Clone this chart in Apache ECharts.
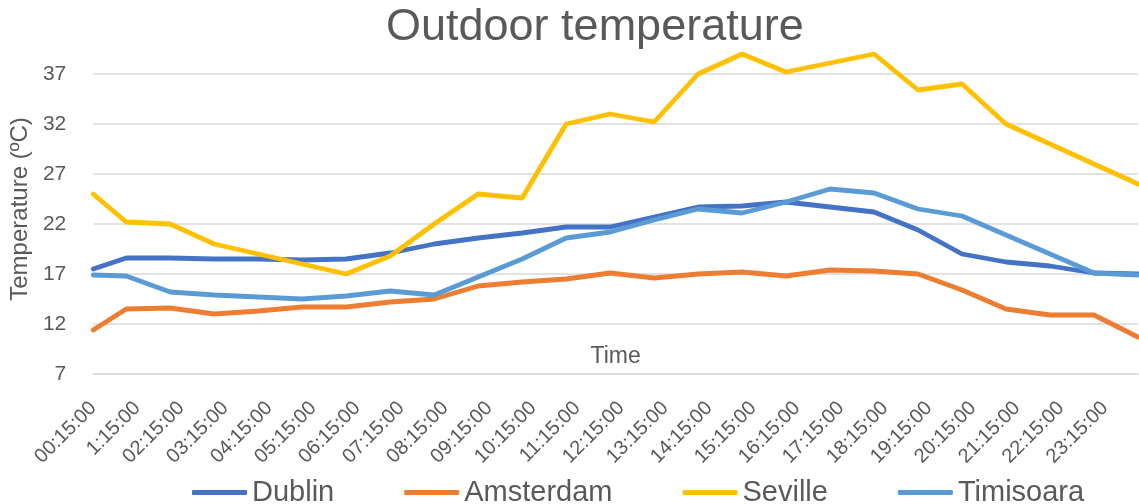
<!DOCTYPE html>
<html>
<head>
<meta charset="utf-8">
<script src="https://cdn.jsdelivr.net/npm/echarts@6/dist/echarts.min.js"></script>
<style>html,body{margin:0;padding:0;background:#fff;}#c{width:1139px;height:504px;}</style>
</head>
<body>
<div id="c"></div>
<script>
const tickLabels = ['00:15:00','1:15:00','02:15:00','03:15:00','04:15:00','05:15:00','06:15:00','07:15:00','08:15:00','09:15:00','10:15:00','11:15:00','12:15:00','13:15:00','14:15:00','15:15:00','16:15:00','17:15:00','18:15:00','19:15:00','20:15:00','21:15:00','22:15:00','23:15:00'];
const times = ['00:15','01:00','02:00','03:00','04:00','05:00','06:00','07:00','08:00','09:00','10:00','11:00','12:00','13:00','14:00','15:00','16:00','17:00','18:00','19:00','20:00','21:00','22:00','23:00','24:00'];
const dublin    = [17.5,18.6,18.6,18.5,18.5,18.4,18.5,19.1,20.0,20.6,21.1,21.7,21.7,22.7,23.7,23.8,24.2,23.7,23.2,21.4,19.0,18.2,17.8,17.1,17.0];
const amsterdam = [11.4,13.5,13.6,13.0,13.3,13.7,13.7,14.2,14.5,15.8,16.2,16.5,17.1,16.6,17.0,17.2,16.8,17.4,17.3,17.0,15.4,13.5,12.9,12.9,10.7];
const seville   = [25.0,22.2,22.0,20.0,19.0,18.0,17.0,18.8,22.0,25.0,24.6,32.0,33.0,32.2,37.0,39.0,37.2,38.1,39.0,35.4,36.0,32.0,30.0,28.0,26.0];
const timisoara = [16.9,16.8,15.2,14.9,14.7,14.5,14.8,15.3,14.9,16.7,18.5,20.6,21.2,22.4,23.5,23.1,24.2,25.5,25.1,23.5,22.8,20.9,19.0,17.1,16.9];

const start = 0.25; // 00:15 in hours, the axis origin
function hrs(t){ const p = t.split(':'); return (+p[0]) + (+p[1])/60 - start; }
function pairs(vals){ return vals.map((v,i)=>[hrs(times[i]), v]); }

const txt = '#595959';
const font = 'Liberation Sans';
const chart = echarts.init(document.getElementById('c'));
function line(name, color, vals){
  return {name, type:'line', data:pairs(vals), symbol:'none', showSymbol:false,
    lineStyle:{color, width:4.8, cap:'round', join:'round'}, itemStyle:{color}};
}
chart.setOption({
  animation:false,
  textStyle:{fontFamily:font},
  title:{text:'Outdoor temperature', left:381, top:0,
    textStyle:{fontFamily:font, fontSize:45, fontWeight:'normal', color:txt}},
  grid:{left:90, right:1, top:44, bottom:130},
  legend:{left:187, top:473, itemGap:70, itemWidth:55, itemHeight:5, icon:'roundRect',
    textStyle:{fontFamily:font, fontSize:29, color:txt}},
  xAxis:{type:'value', min:0, max:hrs('24:00'), interval:1,
    name:'Time', nameLocation:'middle', nameGap:-29,
    nameTextStyle:{fontFamily:font, fontSize:23, color:txt},
    axisLine:{show:true, lineStyle:{color:'#d9d9d9', width:1.5}},
    axisTick:{show:false}, splitLine:{show:false},
    axisLabel:{rotate:45, margin:31, fontFamily:font, fontSize:20, color:txt, showMaxLabel:false,
      formatter:(v)=>{ const i=Math.round(v); return (Math.abs(v-i)<1e-6 && tickLabels[i]) ? tickLabels[i] : ''; }}},
  yAxis:{type:'value', min:7, max:40, interval:5,
    name:'Temperature (ºC)', nameLocation:'middle', nameGap:57, nameRotate:90,
    nameTextStyle:{fontFamily:font, fontSize:24, color:txt},
    axisLine:{show:false}, axisTick:{show:false},
    axisLabel:{margin:27, fontFamily:font, fontSize:21, color:txt, showMaxLabel:false},
    splitLine:{show:true, showMaxLine:false, lineStyle:{color:'#d9d9d9', width:1.5}}},
  series:[
    line('Dublin', '#4472C4', dublin),
    line('Amsterdam', '#ED7D31', amsterdam),
    line('Seville', '#FFC000', seville),
    line('Timisoara', '#5B9BD5', timisoara)
  ]
});
</script>
</body>
</html>
